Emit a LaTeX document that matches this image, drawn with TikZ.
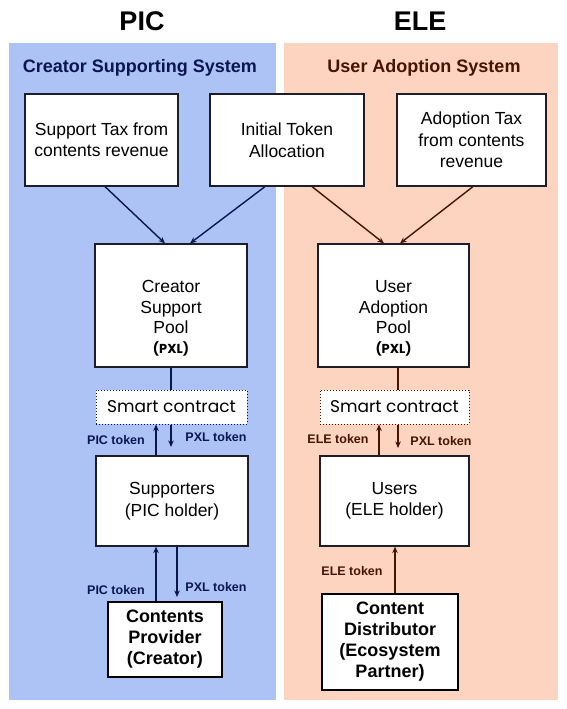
\documentclass[tikz,border=0pt]{standalone}
\usepackage{fontspec}
\setmainfont{Liberation Sans}
\newfontfamily\pop{Poppins}
\usetikzlibrary{arrows.meta,calc}
\definecolor{bluebg}{RGB}{174,195,245}
\definecolor{orbg}{RGB}{253,212,192}
\definecolor{navy}{RGB}{10,22,80}
\definecolor{brn}{RGB}{70,20,5}
\definecolor{boxline}{RGB}{30,30,40}
\tikzset{
  wbox/.style={draw=boxline, line width=1.2pt, fill=white, align=center, inner sep=2pt, font=\fontsize{17.5}{21.5}\selectfont},
  bbox/.style={draw=black, line width=1.8pt, fill=white, align=center, inner sep=2pt, font=\fontsize{18}{21}\selectfont\bfseries},
  scbox/.style={draw, dotted, line width=1pt, fill=white, font=\pop\fontsize{17}{19}\selectfont},
  arr/.style={line width=1.4pt, -{Stealth[length=6.5pt,width=5.5pt]}},
  ln/.style={line width=1.3pt},
  tok/.style={font=\bfseries\fontsize{12.5}{14}\selectfont, inner sep=0pt},
  head/.style={font=\bfseries\fontsize{27}{30}\selectfont},
  sys/.style={font=\bfseries\fontsize{18}{21}\selectfont},
}
\newcommand{\pxltag}{{\pop\bfseries\fontsize{13}{15}\selectfont(PXL)}}
\begin{document}
\begin{tikzpicture}[x=1pt,y=-1pt]
\useasboundingbox (0,0) rectangle (566,709);
\fill[white] (0,0) rectangle (566,709);
\fill[bluebg] (9,43) rectangle (276,700);
\fill[orbg] (284,43) rectangle (558,700);
\node[head] (tpic) at (142,21) {PIC};
\node[head] (tele) at (420,21) {ELE};
\node[sys, text=navy] (s1) at (140,68) {Creator Supporting System};
\node[sys, text=brn] (s2) at (424,68) {User Adoption System};
% top boxes
\node[wbox, minimum width=153, minimum height=92] (b1) at (101.5,140) {Support Tax from\\contents revenue};
\node[wbox, minimum width=154, minimum height=92] (b2) at (287,140) {Initial Token\\Allocation};
\node[wbox, minimum width=149, minimum height=92] (b3) at (471.5,140) {Adoption Tax\\from contents\\revenue};
% pools
\node[wbox, font=\fontsize{17.5}{20.5}\selectfont, minimum width=152, minimum height=123] (p1) at (171,305.5) {\rule{0pt}{38pt}Creator\\Support\\Pool\\[-1pt]\pxltag};
\node[wbox, font=\fontsize{17.5}{20.5}\selectfont, minimum width=151, minimum height=123] (p2) at (393.5,305.5) {\rule{0pt}{38pt}User\\Adoption\\Pool\\[-1pt]\pxltag};
% smart contracts
\node[scbox, draw=navy, minimum width=151, minimum height=34] (c1) at (171.5,407) {Smart contract};
\node[scbox, draw=brn, minimum width=149, minimum height=34] (c2) at (394.5,407) {Smart contract};
% holders
\node[wbox, minimum width=152, minimum height=90] (h1) at (172,501) {Supporters\\(PIC holder)};
\node[wbox, minimum width=149, minimum height=90] (h2) at (394.5,501) {Users\\(ELE holder)};
% bottom
\node[bbox, minimum width=114, minimum height=75] (cp) at (165,639.5) {Contents\\Provider\\(Creator)};
\node[bbox, minimum width=136, minimum height=96] (cd) at (390,642) {Content\\Distributor\\(Ecosystem\\Partner)};
% top arrows
\draw[arr, navy] ($(b1.south)+(3.5,0)$) -- ($(p1.north)+(-6,0)$);
\draw[arr, navy] ($(b2.south)+(-22,0)$) -- ($(p1.north)+(19,0)$);
\draw[arr, brn] ($(b2.south)+(25,0)$) -- ($(p2.north)+(-9.5,0)$);
\draw[arr, brn] ($(b3.south)+(1.5,0)$) -- ($(p2.north)+(6.5,0)$);
% pool to smart contract
\draw[ln, navy] (p1.south) -- ($(c1.north)+(-0.5,0)$);
\draw[ln, brn] ($(p2.south)+(4.5,0)$) -- ($(c2.north)+(3.5,0)$);
% smart contract <-> holders
\coordinate (d1) at (171,447);
\coordinate (d2) at (398,448);
\draw[arr, navy] ($(h1.north)+(-16,0)$) -- ($(c1.south)+(-15.5,0)$);
\draw[arr, navy] ($(c1.south)+(-0.5,0)$) -- (d1);
\draw[arr, brn] ($(h2.north)+(-15.5,0)$) -- ($(c2.south)+(-15.5,0)$);
\draw[arr, brn] ($(c2.south)+(3.5,0)$) -- (d2);
\node[tok, text=navy] (l1) at (116,440) {PIC token};
\node[tok, text=navy] (l2) at (216,437) {PXL token};
\node[tok, text=brn] (l3) at (338,439) {ELE token};
\node[tok, text=brn] (l4) at (441,441) {PXL token};
% holders <-> bottom
\coordinate (d3) at (177,597);
\draw[arr, navy] ($(cp.north)+(-9,0)$) -- ($(h1.south)+(-16,0)$);
\draw[arr, navy] ($(h1.south)+(5,0)$) -- (d3);
\draw[arr, brn] ($(cd.north)+(5,0)$) -- ($(h2.south)+(0.5,0)$);
\node[tok, text=navy] (l5) at (116,590) {PIC token};
\node[tok, text=navy] (l6) at (216,587) {PXL token};
\node[tok, text=brn] (l7) at (352,571) {ELE token};
\end{tikzpicture}
\end{document}
